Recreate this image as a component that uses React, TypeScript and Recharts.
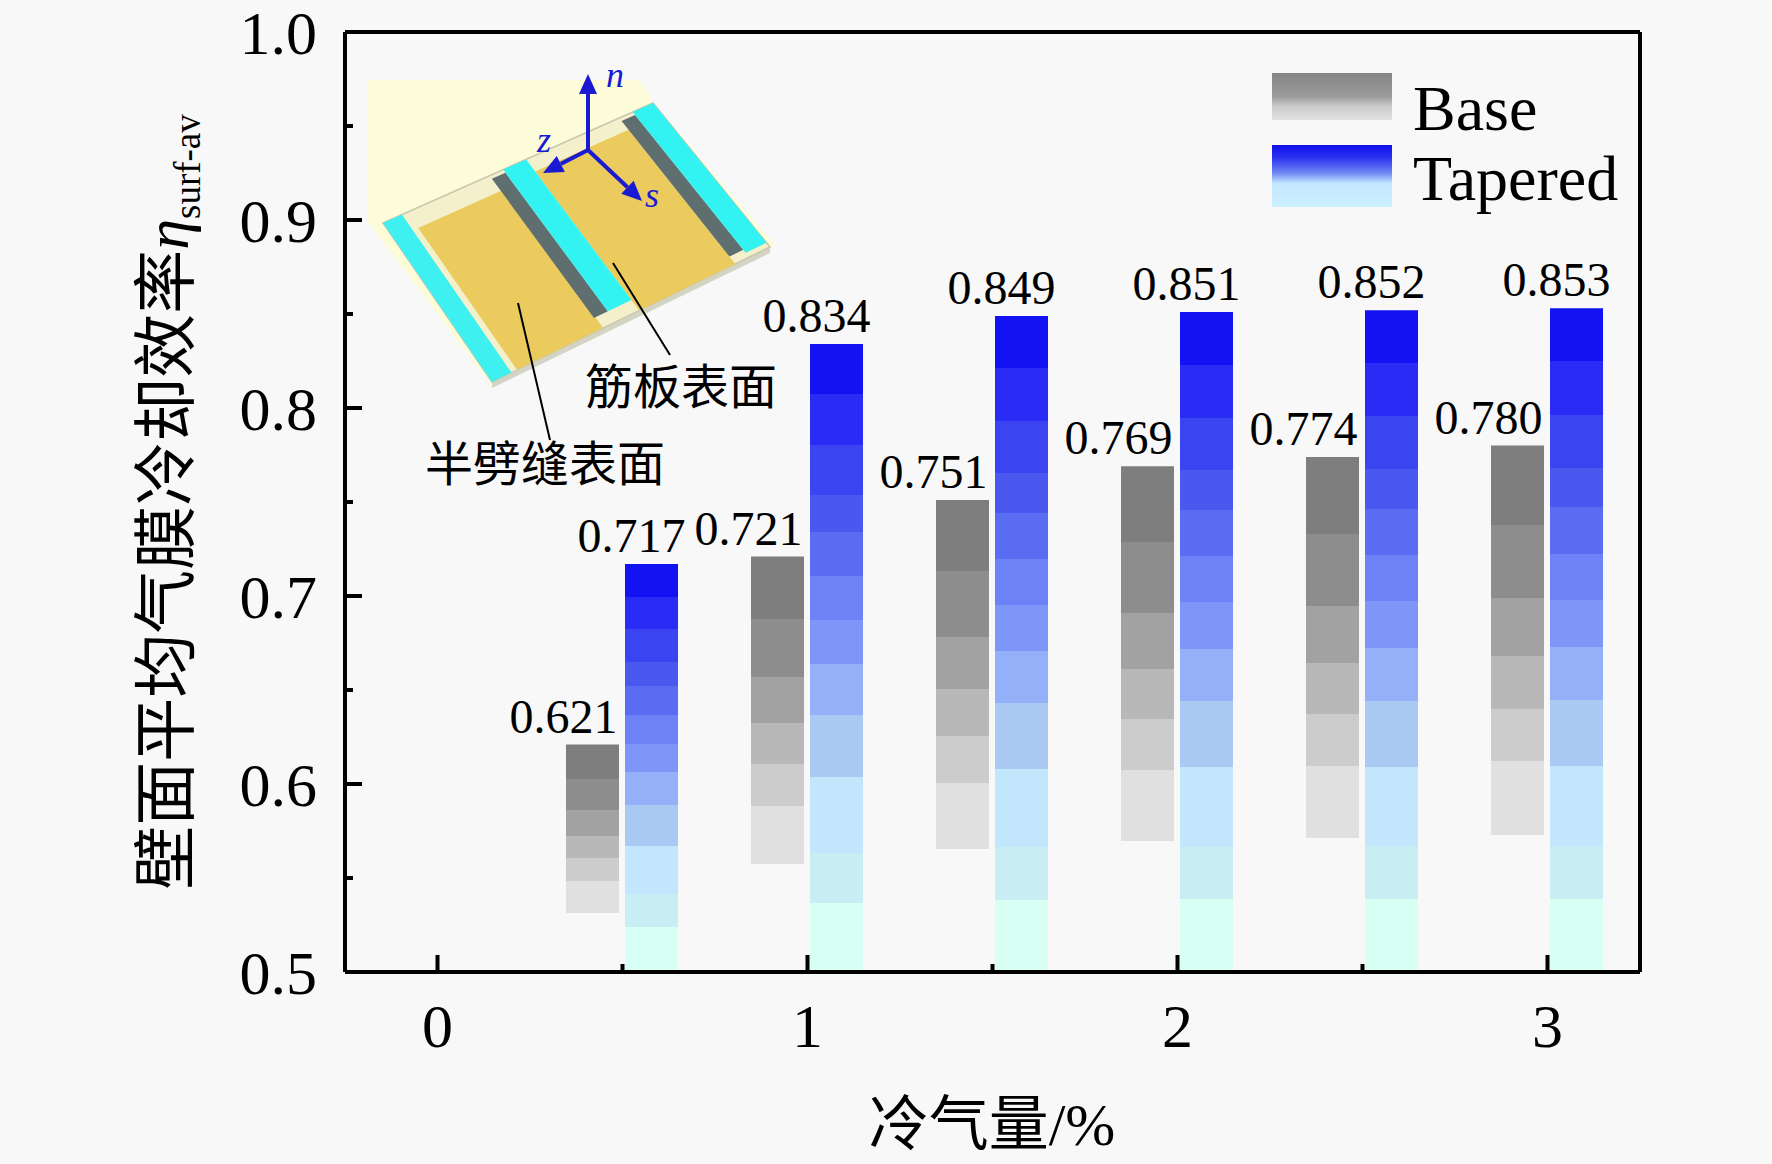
import React from 'react';
import { BarChart, Bar, XAxis, YAxis } from 'recharts';

// ─── Data ─────────────────────────────────────────────────────────────────────
const coolantFlow = [0.5, 1, 1.5, 2, 2.5, 3];
const baseEta = [0.621, 0.721, 0.751, 0.769, 0.774, 0.78];
const taperedEta = [0.717, 0.834, 0.849, 0.851, 0.852, 0.853];
const seriesNames = ['Base', 'Tapered'];
const xTicks = [0, 0.5, 1, 1.5, 2, 2.5, 3];
const yTicks = [0.5, 0.55, 0.6, 0.65, 0.7, 0.75, 0.8, 0.85, 0.9, 0.95, 1.0];
const xTitle = '冷气量/%';
const yTitle = '壁面平均气膜冷却效率';
const insetLabels = ['筋板表面', '半劈缝表面'];

const data = coolantFlow.map((x, i) => ({ x, base: baseEta[i], tapered: taperedEta[i] }));

const SERIF = '"Liberation Serif", "Times New Roman", serif';
const CJK = '"Liberation Serif", "Noto Sans CJK SC", sans-serif';
const BG = '#f8f8f8';

// stepped colour bands (offset start, offset end, colour)
const baseBands: [number, number, string][] = [
  [0, 0.15, '#7e7e7e'], [0.15, 0.29, '#8d8d8d'], [0.29, 0.4, '#a2a2a2'],
  [0.4, 0.5, '#b8b8b8'], [0.5, 0.6, '#cccccc'], [0.6, 0.74, '#e0e0e0'],
];
const taperedBands: [number, number, string][] = [
  [0, 0.08, '#1212f2'], [0.08, 0.16, '#2a2cf6'], [0.16, 0.24, '#3a44f0'],
  [0.24, 0.3, '#4a58f0'], [0.3, 0.37, '#5a6cf2'], [0.37, 0.44, '#6c82f6'],
  [0.44, 0.51, '#7e96f8'], [0.51, 0.59, '#94b0f8'], [0.59, 0.69, '#aacaf4'],
  [0.69, 0.81, '#c2e6fc'], [0.81, 0.89, '#c8eef4'], [0.89, 1, '#d8fff4'],
];

const bandStops = (bands: [number, number, string][], prefix: string) =>
  bands.flatMap(([a, b, c], i) => [
    <stop key={`${prefix}a${i}`} offset={a} stopColor={c} />,
    <stop key={`${prefix}b${i}`} offset={b} stopColor={c} />,
  ]);

const isMajorY = (v: number) => Math.abs(v * 10 - Math.round(v * 10)) < 1e-6;

// ─── Ticks (inward) ───────────────────────────────────────────────────────────
const XTick = (props: any) => {
  const { x, y, payload } = props;
  const v = payload.value as number;
  const major = Number.isInteger(v);
  return (
    <g>
      <line x1={x} x2={x} y1={y} y2={y - (major ? 17 : 8)} stroke="#000" strokeWidth={4} />
      {major && (
        <text x={x} y={y + 75} textAnchor="middle" fontSize={62} fontFamily={SERIF} fill="#000">
          {String(v)}
        </text>
      )}
    </g>
  );
};

const YTick = (props: any) => {
  const { x, y, payload } = props;
  const v = payload.value as number;
  const major = isMajorY(v);
  return (
    <g>
      <line x1={x} x2={x + (major ? 17 : 8)} y1={y} y2={y} stroke="#000" strokeWidth={4} />
      {major && (
        <text x={x - 28} y={y} dy="0.36em" textAnchor="end" fontSize={62} fontFamily={SERIF} fill="#000">
          {v.toFixed(1)}
        </text>
      )}
    </g>
  );
};

const valueLabel = (dx: number) => (props: any) => {
  const { x, y, width, value } = props;
  return (
    <text x={x + width / 2 + dx} y={y - 12} textAnchor="middle" fontSize={48} fontFamily={SERIF} fill="#000">
      {Number(value).toFixed(3)}
    </text>
  );
};

// ─── Inset sketch of the ribbed plate ─────────────────────────────────────────
const IA = [383, 223], IB = [653, 103], IC = [770, 247], ID = [492, 382];
const ip = (u: number, v: number) => [
  IA[0] + u * (IB[0] - IA[0]) + v * (ID[0] - IA[0]) + u * v * (IC[0] - IB[0] - ID[0] + IA[0]),
  IA[1] + u * (IB[1] - IA[1]) + v * (ID[1] - IA[1]) + u * v * (IC[1] - IB[1] - ID[1] + IA[1]),
];
const quad = (u0: number, u1: number, v0: number, v1: number) =>
  [ip(u0, v0), ip(u1, v0), ip(u1, v1), ip(u0, v1)].map((p) => p.join(',')).join(' ');

function Arrow({ x1, y1, x2, y2 }: { x1: number; y1: number; x2: number; y2: number }) {
  const a = Math.atan2(y2 - y1, x2 - x1);
  const L = 20, W = 9;
  const bx = x2 - L * Math.cos(a), by = y2 - L * Math.sin(a);
  const pts = [
    [x2, y2],
    [bx + W * Math.sin(a), by - W * Math.cos(a)],
    [bx - W * Math.sin(a), by + W * Math.cos(a)],
  ].map((p) => p.join(',')).join(' ');
  return (
    <g>
      <line x1={x1} y1={y1} x2={bx} y2={by} stroke="#1a1ad2" strokeWidth={4} />
      <polygon points={pts} fill="#1a1ad2" />
    </g>
  );
}

function Inset() {
  const bottomEdge = [ip(0, 1), ip(1, 1), [ip(1, 1)[0], ip(1, 1)[1] + 6], [ip(0, 1)[0], ip(0, 1)[1] + 6]]
    .map((p) => p.join(',')).join(' ');
  return (
    <g>
      <polygon points="368,80 640,80 653,103 775,245 492,386 368,222" fill="#fcfcd8" />
      <polygon points={bottomEdge} fill="#d4d4c4" />
      <polygon points={quad(0, 1, 0, 1)} fill="#f4f0cc" stroke="#c8c8b0" strokeWidth={1.5} />
      <polygon points={quad(0.09, 0.4, 0.1, 1)} fill="#ebcb5e" />
      <polygon points={quad(0.53, 0.875, 0.08, 1)} fill="#ebcb5e" />
      <polygon points={quad(0, 0.07, 0, 1)} fill="#3ff0f0" />
      <polygon points={quad(0.395, 0.445, 0.02, 0.93)} fill="#5f6f70" />
      <polygon points={quad(0.445, 0.53, 0, 0.93)} fill="#33f2f2" />
      <polygon points={quad(0.875, 0.925, 0.02, 0.95)} fill="#5f6f70" />
      <polygon points={quad(0.925, 1, 0, 0.97)} fill="#33f2f2" />
      <Arrow x1={588} y1={150} x2={588} y2={74} />
      <Arrow x1={588} y1={150} x2={543} y2={173} />
      <Arrow x1={588} y1={150} x2={642} y2={201} />
      <text x={606} y={87} fontSize={36} fontStyle="italic" fontFamily={SERIF} fill="#1a1ad2">n</text>
      <text x={537} y={152} fontSize={36} fontStyle="italic" fontFamily={SERIF} fill="#1a1ad2">z</text>
      <text x={645} y={207} fontSize={36} fontStyle="italic" fontFamily={SERIF} fill="#1a1ad2">s</text>
      <line x1={613} y1={263} x2={670} y2={355} stroke="#000" strokeWidth={2} />
      <line x1={518} y1={303} x2={550} y2={440} stroke="#000" strokeWidth={2} />
      <text x={585} y={404} fontSize={48} fontFamily={CJK} fill="#000">{insetLabels[0]}</text>
      <text x={425} y={481} fontSize={48} fontFamily={CJK} fill="#000">{insetLabels[1]}</text>
    </g>
  );
}

// ─── Overlay: titles, legend, inset ───────────────────────────────────────────
function Overlay() {
  return (
    <svg width={1772} height={1164} style={{ position: 'absolute', left: 0, top: 0, pointerEvents: 'none' }}>
      <defs>
        <linearGradient id="gBaseLeg" x1="0" y1="0" x2="0" y2="1">
          <stop offset="0" stopColor="#868686" />
          <stop offset="0.5" stopColor="#9a9a9a" />
          <stop offset="0.7" stopColor="#cacaca" />
          <stop offset="1" stopColor="#e2e2e2" />
        </linearGradient>
        <linearGradient id="gTapLeg" x1="0" y1="0" x2="0" y2="1">
          <stop offset="0" stopColor="#1010e8" />
          <stop offset="0.2" stopColor="#2a30f0" />
          <stop offset="0.45" stopColor="#6e88f2" />
          <stop offset="0.62" stopColor="#c4e8ff" />
          <stop offset="1" stopColor="#cdf0ff" />
        </linearGradient>
      </defs>
      <Inset />
      {/* legend */}
      <rect x={1272} y={73} width={120} height={47} fill="url(#gBaseLeg)" />
      <text x={1413} y={130} fontSize={64} fontFamily={SERIF} fill="#000">{seriesNames[0]}</text>
      <rect x={1272} y={145} width={120} height={62} fill="url(#gTapLeg)" />
      <text x={1413} y={200} fontSize={64} fontFamily={SERIF} fill="#000">{seriesNames[1]}</text>
      {/* axis titles */}
      <text x={992} y={1145} textAnchor="middle" fontSize={60} fontFamily={CJK} fill="#000">{xTitle}</text>
      <text transform="translate(188,502) rotate(-90)" textAnchor="middle" fontFamily={CJK} fill="#000">
        <tspan fontSize={64}>{yTitle}</tspan>
        <tspan fontSize={62} fontStyle="italic" fontFamily={SERIF}>η</tspan>
        <tspan fontSize={37} fontFamily={SERIF} dy={12}>surf-av</tspan>
      </text>
    </svg>
  );
}

export default function App() {
  const axisStyle = { stroke: '#000', strokeWidth: 4 };
  return (
    <div style={{ position: 'absolute', left: 0, top: 0, width: 1772, height: 1164, background: BG }}>
      <BarChart
        width={1772}
        height={1164}
        data={data}
        margin={{ top: 22, right: 122, bottom: 0, left: 145 }}
        barSize={53}
        barGap={6}
      >
        <defs>
          <linearGradient id="gBase" x1="0" y1="0" x2="0" y2="1">
            {bandStops(baseBands, 'b')}
            <stop offset={0.74} stopColor="#e0e0e0" stopOpacity={0} />
            <stop offset={1} stopColor="#e0e0e0" stopOpacity={0} />
          </linearGradient>
          <linearGradient id="gTapered" x1="0" y1="0" x2="0" y2="1">
            {bandStops(taperedBands, 't')}
          </linearGradient>
        </defs>
        <XAxis
          xAxisId="top"
          orientation="top"
          type="number"
          dataKey="x"
          domain={[-0.25, 3.25]}
          height={10}
          tick={false}
          tickLine={false}
          axisLine={axisStyle}
          allowDataOverflow
        />
        <XAxis
          type="number"
          dataKey="x"
          domain={[-0.25, 3.25]}
          ticks={xTicks}
          interval={0}
          height={192}
          tickSize={0}
          tickMargin={0}
          tickLine={false}
          tick={XTick}
          axisLine={axisStyle}
          allowDataOverflow
        />
        <YAxis
          type="number"
          domain={[0.5, 1]}
          ticks={yTicks}
          interval={0}
          width={200}
          tickSize={0}
          tickMargin={0}
          tickLine={false}
          tick={YTick}
          axisLine={axisStyle}
          allowDataOverflow
        />
        <YAxis
          yAxisId="right"
          orientation="right"
          type="number"
          domain={[0.5, 1]}
          width={10}
          tick={false}
          tickLine={false}
          axisLine={axisStyle}
        />
        <Bar dataKey="base" name={seriesNames[0]} fill="url(#gBase)" isAnimationActive={false} label={valueLabel(-29)} />
        <Bar dataKey="tapered" name={seriesNames[1]} fill="url(#gTapered)" isAnimationActive={false} label={valueLabel(-20)} />
      </BarChart>
      <Overlay />
    </div>
  );
}
